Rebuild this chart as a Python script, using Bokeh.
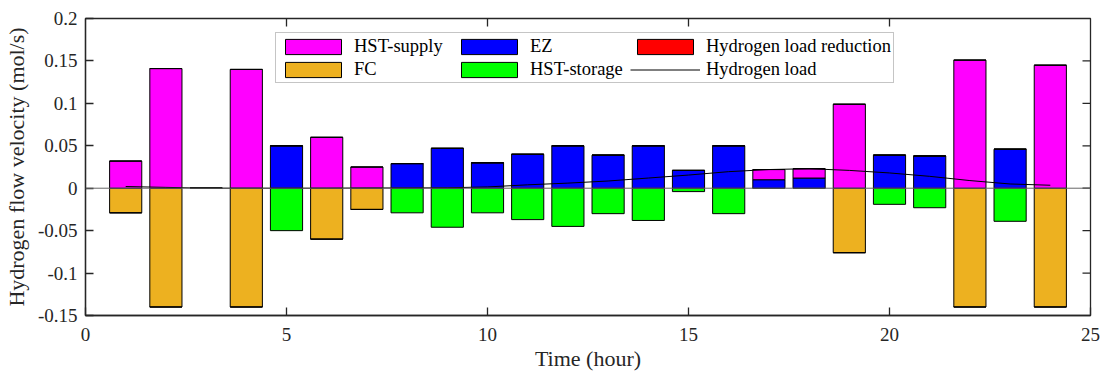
import numpy as np
from bokeh.plotting import figure
from bokeh.models import (ColumnDataSource, FixedTicker, Legend, LegendItem,
                          Span, Range1d)
from bokeh.embed import file_html
from bokeh.resources import INLINE

# ---- data (mol/s per hour) ----
hours = list(range(1, 25))
hst_supply = [0.032, 0.141, 0.0, 0.140, 0.0, 0.060, 0.025, 0.0, 0.0, 0.0, 0.0, 0.0,
              0.0, 0.0, 0.0, 0.0, 0.012, 0.011, 0.099, 0.0, 0.0, 0.151, 0.0, 0.145]
fc = [-0.029, -0.140, 0.0, -0.140, 0.0, -0.060, -0.025, 0.0, 0.0, 0.0, 0.0, 0.0,
      0.0, 0.0, 0.0, 0.0, 0.0, 0.0, -0.076, 0.0, 0.0, -0.140, 0.0, -0.140]
ez = [0.0, 0.0, 0.0, 0.0, 0.050, 0.0, 0.0, 0.029, 0.047, 0.030, 0.040, 0.050,
      0.039, 0.050, 0.021, 0.050, 0.010, 0.012, 0.0, 0.039, 0.038, 0.0, 0.046, 0.0]
hst_storage = [0.0, 0.0, 0.0, 0.0, -0.050, 0.0, 0.0, -0.029, -0.046, -0.029, -0.037, -0.045,
               -0.030, -0.038, -0.004, -0.030, 0.0, 0.0, 0.0, -0.019, -0.023, 0.0, -0.039, 0.0]
load_reduction = [0.0] * 24
hydrogen_load = [0.002, 0.001, 0.0, 0.0, 0.0, 0.0, 0.0003, 0.0003, 0.0005, 0.0015, 0.004, 0.006,
                 0.0085, 0.012, 0.0155, 0.0195, 0.022, 0.023, 0.021, 0.018, 0.014, 0.009, 0.005, 0.0035]

x_ticks = [0, 5, 10, 15, 20, 25]
x_tick_labels = ["0", "5", "10", "15", "20", "25"]
y_ticks = [-0.15, -0.1, -0.05, 0, 0.05, 0.1, 0.15, 0.2]
y_tick_labels = ["-0.15", "-0.1", "-0.05", "0", "0.05", "0.1", "0.15", "0.2"]

FONT = "Liberation Serif"
AX = "#262626"
BAR_W = 0.8
X0, X1 = 0, 25
Y0, Y1 = -0.15, 0.2
TICK_PX = 8

p = figure(width=1105, height=373, output_backend="svg", toolbar_location=None,
           x_range=Range1d(X0, X1), y_range=Range1d(Y0, Y1),
           min_border_left=85, min_border_right=15, min_border_top=18, min_border_bottom=58)
p.grid.visible = False
p.background_fill_color = "white"
p.border_fill_color = "white"
p.outline_line_color = AX
p.outline_line_width = 1.3

h = np.array(hours, dtype=float)
sup = np.array(hst_supply)
fcv = np.array(fc)
ezv = np.array(ez)
sto = np.array(hst_storage)
red = np.array(load_reduction)


def bars(bottom, top, color):
    src = ColumnDataSource(dict(x=h, bottom=bottom, top=top))
    return p.vbar(x="x", bottom="bottom", top="top", width=BAR_W, source=src,
                  fill_color=color, line_color="black", line_width=1)


# negative side: FC first, HST-storage below it
r_fc = bars(np.zeros_like(fcv), fcv, "#EDB120")
r_sto = bars(fcv, fcv + sto, "#00FF00")
# positive side: EZ first, HST-supply and load reduction stacked on top
r_ez = bars(np.zeros_like(ezv), ezv, "#0000FF")
r_sup = bars(ezv, ezv + sup, "#FF00FF")
r_red = bars(ezv + sup, ezv + sup + red, "#FF0000")

# bar baseline
p.add_layout(Span(location=0, dimension="width", line_color="#666666", line_width=1))

r_load = p.line(hours, hydrogen_load, line_color="black", line_width=1)

# axes styling
for ax, ticks, labels in ((p.xaxis[0], x_ticks, x_tick_labels), (p.yaxis[0], y_ticks, y_tick_labels)):
    ax.ticker = FixedTicker(ticks=ticks)
    ax.major_label_overrides = {t: l for t, l in zip(ticks, labels)}
    ax.major_tick_in = TICK_PX
    ax.major_tick_out = 0
    ax.minor_tick_in = 0
    ax.minor_tick_out = 0
    ax.axis_line_color = AX
    ax.axis_line_width = 1.3
    ax.major_tick_line_color = AX
    ax.major_tick_line_width = 1.3
    ax.major_label_text_font = FONT
    ax.major_label_text_font_size = "19px"
    ax.major_label_text_color = AX
    ax.axis_label_text_font = FONT
    ax.axis_label_text_font_size = "22px"
    ax.axis_label_text_font_style = "normal"
    ax.axis_label_text_color = AX

p.xaxis.axis_label = "Time (hour)"
p.yaxis.axis_label = "Hydrogen flow velocity (mol/s)"
p.xaxis.major_label_standoff = 12
p.yaxis.major_label_standoff = 8
p.xaxis.axis_label_standoff = 2
p.yaxis.axis_label_standoff = 6

# mirrored inward tick marks on the top and right edges of the box
frame_w, frame_h = 1105 - 85 - 15, 373 - 18 - 58
dx = TICK_PX * (X1 - X0) / frame_w
dy = TICK_PX * (Y1 - Y0) / frame_h
top_t = [t for t in x_ticks if X0 < t < X1]
right_t = [t for t in y_ticks if Y0 < t < Y1]
p.segment(x0=top_t, y0=[Y1] * len(top_t), x1=top_t, y1=[Y1 - dy] * len(top_t),
          line_color=AX, line_width=1.3)
p.segment(x0=[X1] * len(right_t), y0=right_t, x1=[X1 - dx] * len(right_t), y1=right_t,
          line_color=AX, line_width=1.3)

legend = Legend(items=[
    LegendItem(label="HST-supply", renderers=[r_sup]),
    LegendItem(label="FC", renderers=[r_fc]),
    LegendItem(label="EZ", renderers=[r_ez]),
    LegendItem(label="HST-storage", renderers=[r_sto]),
    LegendItem(label="Hydrogen load reduction", renderers=[r_red]),
    LegendItem(label="Hydrogen load", renderers=[r_load]),
], nrows=2, location=(190, 232))
legend.label_text_font = FONT
legend.label_text_font_size = "18.5px"
legend.label_text_color = "black"
legend.glyph_width = 70
legend.glyph_height = 19
legend.label_height = 22
legend.label_width = 99
legend.label_standoff = 6
legend.spacing = 1
legend.padding = 2
legend.margin = 0
legend.border_line_color = "#8c8c8c"
legend.border_line_width = 1
legend.background_fill_alpha = 1.0
p.add_layout(legend, "center")

open("out.html", "w").write(file_html(p, INLINE))
